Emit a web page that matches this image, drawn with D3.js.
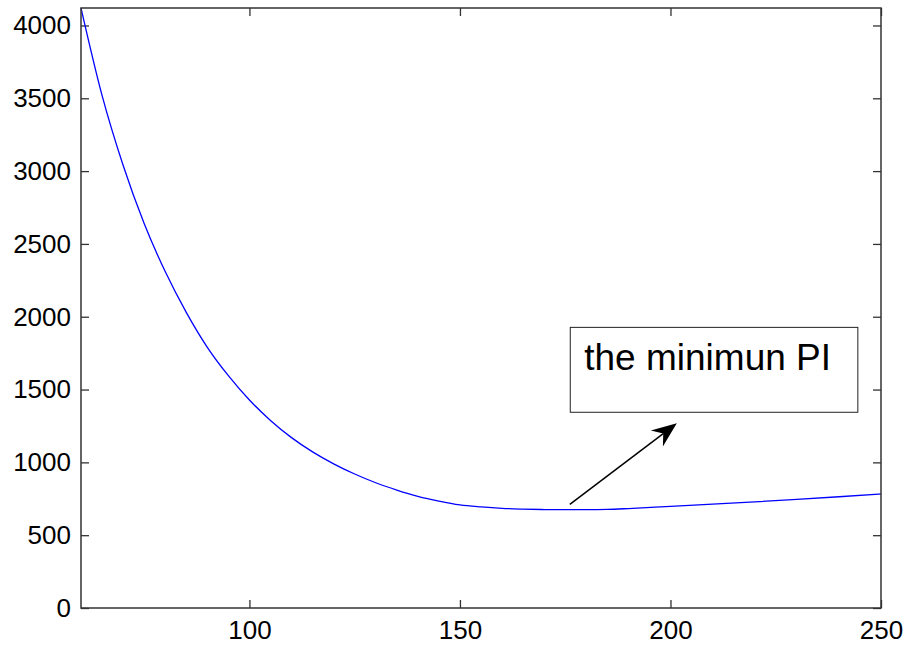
<!DOCTYPE html>
<html>
<head>
<meta charset="utf-8">
<script src="https://cdn.jsdelivr.net/npm/d3@7"></script>
<style>
    body { margin: 0; background: #fff; }
    svg { display: block; }
    .tick text { font-family: Arial, "Liberation Sans", sans-serif; font-size: 26px; fill: #000; }
    .tick line { stroke: #333; stroke-width: 1.3; }
</style>
</head>
<body>
<svg id="chart"></svg>
<script>
// curve samples: x and PI value
const xValues = [60, 65, 70, 75, 80, 85, 90, 95, 100, 105, 110, 115, 120, 125, 130, 135, 140, 145,
    150, 155, 160, 165, 170, 175, 180, 185, 190, 200, 210, 220, 230, 240, 250]
const piValues = [4120, 3520, 3040, 2640, 2310, 2030, 1790, 1595, 1428, 1288, 1170, 1072, 990, 920, 860, 810,
    767, 734, 708, 694, 684, 679, 676, 675, 675, 677, 683, 698, 713, 729, 746, 764, 783]

const xTicks = [100, 150, 200, 250]
const yTicks = [0, 500, 1000, 1500, 2000, 2500, 3000, 3500, 4000]
const xDomain = [60, 250]
const yDomain = [0, 4120]

// annotation, in data units
const noteText = 'the minimun PI'
const noteBox = { x0: 176.2, x1: 244.5, y0: 1927, y1: 1344 }
const arrowFrom = [176.1, 712]
const arrowTo = [201.5, 1268]

const width = 914
const height = 645
const margin = { top: 8, right: 33, bottom: 37, left: 81 }

const svg = d3.select('#chart')
    .attr('width', width)
    .attr('height', height)

const x = d3.scaleLinear().domain(xDomain).range([margin.left, width - margin.right])
const y = d3.scaleLinear().domain(yDomain).range([height - margin.bottom, margin.top])

const data = xValues.map((v, i) => [v, piValues[i]])
const fmt = d3.format('d')

// axes, ticks pointing inward
svg.append('g')
    .attr('transform', `translate(0,${y(0)})`)
    .call(d3.axisBottom(x).tickValues(xTicks).tickFormat(fmt).tickSize(-8).tickSizeOuter(0).tickPadding(13))
    .call(g => g.select('.domain').remove())

svg.append('g')
    .attr('transform', `translate(0,${margin.top})`)
    .call(d3.axisTop(x).tickValues(xTicks).tickSize(-8).tickSizeOuter(0).tickFormat(''))
    .call(g => g.select('.domain').remove())

svg.append('g')
    .attr('transform', `translate(${margin.left},0)`)
    .call(d3.axisLeft(y).tickValues(yTicks).tickFormat(fmt).tickSize(-8).tickSizeOuter(0).tickPadding(10))
    .call(g => g.select('.domain').remove())

svg.append('g')
    .attr('transform', `translate(${width - margin.right},0)`)
    .call(d3.axisRight(y).tickValues(yTicks).tickSize(-8).tickSizeOuter(0).tickFormat(''))
    .call(g => g.select('.domain').remove())

// curve
svg.append('path')
    .datum(data)
    .attr('fill', 'none')
    .attr('stroke', '#0000ff')
    .attr('stroke-width', 1.3)
    .attr('d', d3.line().x(d => x(d[0])).y(d => y(d[1])).curve(d3.curveMonotoneX))

// frame
svg.append('rect')
    .attr('x', x(xDomain[0]))
    .attr('y', y(yDomain[1]))
    .attr('width', x(xDomain[1]) - x(xDomain[0]))
    .attr('height', y(yDomain[0]) - y(yDomain[1]))
    .attr('fill', 'none')
    .attr('stroke', '#333')
    .attr('stroke-width', 1.5)

// text box
svg.append('rect')
    .attr('x', x(noteBox.x0))
    .attr('y', y(noteBox.y0))
    .attr('width', x(noteBox.x1) - x(noteBox.x0))
    .attr('height', y(noteBox.y1) - y(noteBox.y0))
    .attr('fill', '#fff')
    .attr('stroke', '#222')
    .attr('stroke-width', 1)

svg.append('text')
    .attr('x', x(noteBox.x0) + 14)
    .attr('y', y(noteBox.y0) + 43)
    .attr('font-family', 'Arial, "Liberation Sans", sans-serif')
    .attr('font-size', 37)
    .attr('fill', '#000')
    .text(noteText)

// arrow with a notched head
const ax0 = x(arrowFrom[0]), ay0 = y(arrowFrom[1])
const ax1 = x(arrowTo[0]), ay1 = y(arrowTo[1])
const ang = Math.atan2(ay1 - ay0, ax1 - ax0)
const headLen = 25
const headHalf = 10
const notch = 17

const bx = ax1 - headLen * Math.cos(ang)
const by = ay1 - headLen * Math.sin(ang)
const nx = ax1 - notch * Math.cos(ang)
const ny = ay1 - notch * Math.sin(ang)
const px = -Math.sin(ang), py = Math.cos(ang)

svg.append('line')
    .attr('x1', ax0).attr('y1', ay0)
    .attr('x2', nx).attr('y2', ny)
    .attr('stroke', '#000')
    .attr('stroke-width', 1.5)

svg.append('path')
    .attr('d', `M${ax1},${ay1}L${bx + px * headHalf},${by + py * headHalf}L${nx},${ny}L${bx - px * headHalf},${by - py * headHalf}Z`)
    .attr('fill', '#000')
</script>
</body>
</html>
